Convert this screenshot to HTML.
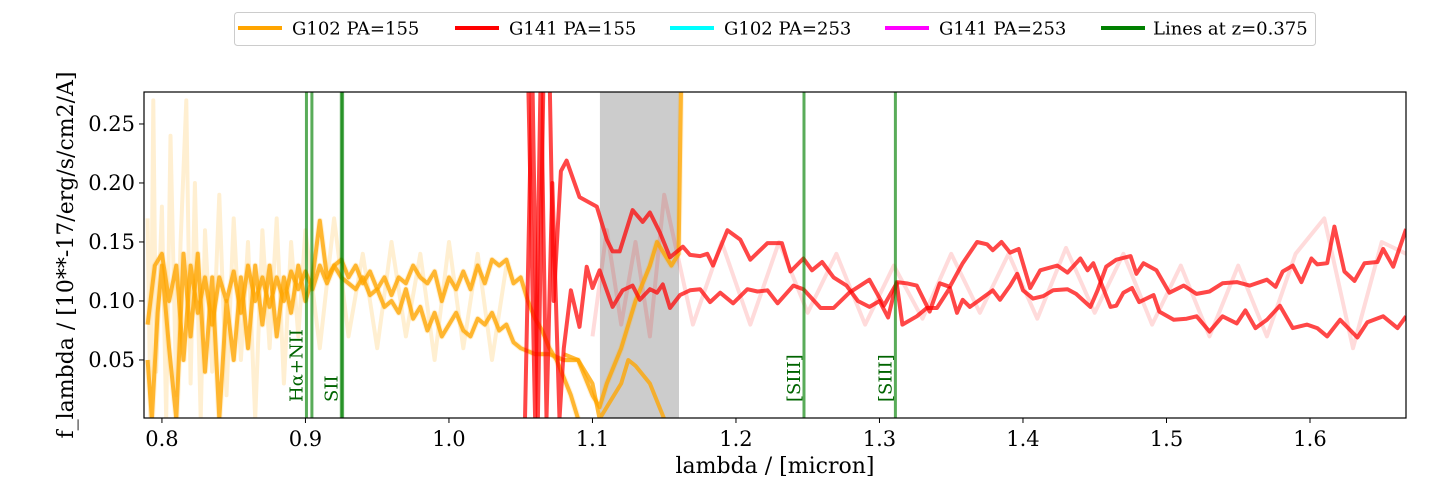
<!DOCTYPE html>
<html><head><meta charset="utf-8"><style>
html,body{margin:0;padding:0;background:#fff;}
svg{display:block;font-family:"DejaVu Serif","Liberation Serif",serif;}
</style></head><body>
<svg id="chart" width="1435" height="492" viewBox="0 0 1435 492">
<defs><clipPath id="clip"><rect x="144" y="92" width="1262" height="326"/></clipPath></defs>
<rect x="0" y="0" width="1435" height="492" fill="#fff"/>
<g id="plot" clip-path="url(#clip)"></g>
<rect x="144" y="92" width="1262" height="326" fill="none" stroke="#000" stroke-width="1.2"/>
<g id="axes"></g>
<text x="775" y="473" font-size="22" text-anchor="middle">lambda / [micron]</text>
<text transform="translate(73,255) rotate(-90)" font-size="22" text-anchor="middle">f_lambda / [10**-17/erg/s/cm2/A]</text>
<g>
<rect x="234.5" y="12.5" width="1081" height="33" rx="3" fill="#fff" stroke="#ccc"/>
<g><line x1="238" y1="28" x2="282" y2="28" stroke="#ffa500" stroke-width="4"/><text x="292" y="34.5" font-size="18">G102 PA=155</text></g>
<g><line x1="455" y1="28" x2="499" y2="28" stroke="#ff0000" stroke-width="4"/><text x="509" y="34.5" font-size="18">G141 PA=155</text></g>
<g><line x1="670" y1="28" x2="714" y2="28" stroke="#00ffff" stroke-width="4"/><text x="724" y="34.5" font-size="18">G102 PA=253</text></g>
<g><line x1="885" y1="28" x2="929" y2="28" stroke="#ff00ff" stroke-width="4"/><text x="939" y="34.5" font-size="18">G141 PA=253</text></g>
<g><line x1="1101" y1="28" x2="1145" y2="28" stroke="#008000" stroke-width="4"/><text x="1153" y="34.5" font-size="18">Lines at z=0.375</text></g>
</g>
</svg>
<script>
// ---- data ----
const xTicks = [0.8,0.9,1.0,1.1,1.2,1.3,1.4,1.5,1.6];
const xTickLabels = ["0.8","0.9","1.0","1.1","1.2","1.3","1.4","1.5","1.6"];
const yTicks = [0.05,0.10,0.15,0.20,0.25];
const yTickLabels = ["0.05","0.10","0.15","0.20","0.25"];
const maskBand = [1.1052,1.1603];
const lineWaves = [0.9007,0.9045,0.9250,0.9259,1.2474,1.3111];
const lineLabels = [{w:0.9007,t:"Hα+NII"},{w:0.9250,t:"SII"},{w:1.2474,t:"[SIII]"},{w:1.3111,t:"[SIII]"}];

const o1Wave = [0.79,0.795,0.80,0.805,0.81,0.815,0.82,0.825,0.83,0.835,0.84,0.845,0.85,0.855,0.86,0.865,0.87,0.875,0.88,0.885,0.89,0.895,0.90,0.905,0.91,0.915,0.92,0.925,0.93,0.935,0.94,0.945,0.95,0.955,0.96,0.965,0.97,0.975,0.98,0.985,0.99,0.995,1.0,1.005,1.01,1.015,1.02,1.025,1.03,1.035,1.04,1.045,1.05,1.055,1.06,1.065,1.07,1.075,1.08,1.085,1.09];
const o1Flux = [0.08,0.13,0.14,0.10,0.13,0.05,0.13,0.09,0.12,0.08,0.12,0.10,0.125,0.09,0.13,0.10,0.12,0.095,0.12,0.10,0.125,0.11,0.125,0.11,0.13,0.115,0.13,0.135,0.12,0.13,0.115,0.125,0.11,0.12,0.105,0.12,0.115,0.13,0.12,0.115,0.125,0.10,0.12,0.11,0.125,0.11,0.13,0.115,0.135,0.13,0.135,0.115,0.12,0.10,0.085,0.075,0.06,0.05,0.035,0.02,0.0];
const o2Wave = [0.79,0.793,0.797,0.80,0.805,0.81,0.815,0.82,0.825,0.83,0.835,0.84,0.845,0.85,0.855,0.86,0.865,0.87,0.875,0.88,0.885,0.89,0.895,0.90,0.905,0.91,0.915,0.92,0.925,0.93,0.935,0.94,0.945,0.95,0.955,0.96,0.965,0.97,0.975,0.98,0.985,0.99,0.995,1.0,1.005,1.01,1.015,1.02,1.025,1.03,1.035,1.04,1.045,1.05,1.06,1.07,1.08,1.09,1.10,1.105,1.11,1.12,1.13,1.14,1.145,1.155,1.16,1.162,1.164];
const o2Flux = [0.05,0.0,0.09,0.13,0.06,0.0,0.14,0.07,0.14,0.04,0.12,0.0,0.10,0.05,0.12,0.06,0.13,0.08,0.13,0.07,0.12,0.09,0.13,0.10,0.12,0.168,0.12,0.13,0.12,0.115,0.11,0.12,0.105,0.11,0.095,0.10,0.09,0.11,0.085,0.095,0.075,0.09,0.07,0.08,0.09,0.075,0.07,0.085,0.08,0.09,0.075,0.08,0.065,0.06,0.055,0.055,0.05,0.05,0.02,0.01,0.03,0.06,0.10,0.13,0.15,0.13,0.14,0.30,0.30];
const o3Wave = [1.08,1.09,1.10,1.105,1.11,1.12,1.125,1.13,1.14,1.15];
const o3Flux = [0.055,0.05,0.03,0.0,0.01,0.03,0.05,0.045,0.03,0.0];
const oFaintWave = [0.79,0.792,0.794,0.796,0.80,0.803,0.806,0.81,0.813,0.817,0.82,0.823,0.827,0.83,0.835,0.84,0.845,0.85,0.855,0.86,0.865,0.87,0.875,0.88,0.885,0.89,0.895,0.90,0.91,0.92,0.93,0.94,0.95,0.96,0.97,0.98,0.99,1.0,1.01,1.02,1.03,1.04];
const oFaintFlux = [0.17,0.0,0.27,0.04,0.18,0.0,0.24,0.02,0.15,0.27,0.03,0.20,0.0,0.16,0.04,0.19,0.02,0.17,0.05,0.15,0.0,0.16,0.06,0.17,0.03,0.15,0.07,0.16,0.06,0.17,0.07,0.14,0.06,0.15,0.07,0.14,0.05,0.15,0.06,0.14,0.05,0.13];

const r1Wave = [1.053,1.058,1.062,1.066,1.070,1.073,1.078,1.082,1.091,1.103,1.110,1.114,1.119,1.128,1.135,1.140,1.147,1.154,1.163,1.168,1.175,1.180,1.184,1.194,1.203,1.210,1.222,1.232,1.238,1.247,1.253,1.260,1.268,1.277,1.285,1.293,1.300,1.306,1.312,1.319,1.326,1.335,1.342,1.349,1.358,1.368,1.375,1.379,1.385,1.391,1.397,1.405,1.412,1.424,1.431,1.440,1.445,1.449,1.461,1.465,1.470,1.476,1.481,1.491,1.495,1.505,1.514,1.521,1.530,1.539,1.549,1.555,1.562,1.570,1.579,1.588,1.598,1.605,1.612,1.621,1.633,1.640,1.651,1.661,1.667];
const r1Flux = [0.0,0.30,0.0,0.30,0.30,0.10,0.21,0.219,0.188,0.18,0.152,0.142,0.142,0.177,0.167,0.175,0.158,0.137,0.146,0.139,0.138,0.14,0.13,0.16,0.152,0.135,0.149,0.149,0.125,0.136,0.126,0.133,0.12,0.113,0.10,0.095,0.10,0.086,0.116,0.115,0.113,0.091,0.115,0.112,0.132,0.15,0.148,0.143,0.15,0.141,0.144,0.111,0.126,0.13,0.124,0.136,0.126,0.132,0.095,0.096,0.107,0.111,0.099,0.105,0.091,0.084,0.085,0.087,0.074,0.087,0.081,0.092,0.077,0.084,0.096,0.077,0.08,0.077,0.07,0.084,0.069,0.082,0.087,0.077,0.087];
const r2Wave = [1.055,1.060,1.064,1.068,1.072,1.077,1.080,1.085,1.091,1.096,1.100,1.105,1.114,1.121,1.128,1.133,1.140,1.145,1.149,1.154,1.161,1.168,1.175,1.182,1.189,1.198,1.208,1.215,1.222,1.229,1.240,1.247,1.259,1.268,1.279,1.293,1.303,1.312,1.316,1.326,1.333,1.340,1.349,1.354,1.358,1.363,1.370,1.379,1.384,1.391,1.396,1.400,1.407,1.414,1.421,1.431,1.437,1.447,1.452,1.458,1.465,1.475,1.479,1.484,1.493,1.502,1.512,1.521,1.530,1.539,1.549,1.558,1.570,1.576,1.581,1.588,1.594,1.601,1.605,1.612,1.617,1.624,1.631,1.638,1.647,1.651,1.658,1.667];
const r2Flux = [0.30,0.0,0.30,0.0,0.20,0.0,0.06,0.109,0.078,0.129,0.111,0.126,0.095,0.109,0.113,0.101,0.11,0.107,0.114,0.094,0.105,0.109,0.11,0.099,0.107,0.098,0.11,0.108,0.109,0.098,0.113,0.11,0.094,0.094,0.107,0.118,0.096,0.115,0.08,0.087,0.094,0.094,0.111,0.09,0.101,0.095,0.101,0.109,0.101,0.113,0.123,0.109,0.102,0.104,0.109,0.11,0.106,0.095,0.109,0.129,0.135,0.138,0.123,0.132,0.126,0.107,0.113,0.106,0.108,0.115,0.116,0.113,0.118,0.112,0.125,0.13,0.116,0.136,0.131,0.132,0.163,0.125,0.117,0.132,0.133,0.144,0.129,0.161];
const rFaintWave = [1.10,1.11,1.12,1.13,1.14,1.15,1.17,1.19,1.21,1.23,1.25,1.27,1.29,1.31,1.33,1.35,1.37,1.39,1.41,1.43,1.45,1.47,1.49,1.51,1.53,1.55,1.57,1.59,1.61,1.63,1.65,1.667];
const rFaintFlux = [0.07,0.16,0.08,0.15,0.07,0.19,0.08,0.15,0.08,0.15,0.09,0.14,0.08,0.13,0.085,0.14,0.09,0.14,0.085,0.145,0.09,0.14,0.08,0.13,0.07,0.13,0.07,0.14,0.17,0.06,0.15,0.14];

// ---- scales ----
const X0=144,X1=1406,Y0=92,Y1=418;
const xMin=0.7875,xMax=1.6669,yMin=0.0008,yMax=0.2771;
function xs(v){return X0+(v-xMin)/(xMax-xMin)*(X1-X0);}
function ys(v){return Y1-(v-yMin)/(yMax-yMin)*(Y1-Y0);}
const NS="http://www.w3.org/2000/svg";
const plot=document.getElementById('plot');
const axes=document.getElementById('axes');
function mk(tag,attrs,parent){const e=document.createElementNS(NS,tag);for(const k in attrs)e.setAttribute(k,attrs[k]);parent.appendChild(e);return e;}

const band=mk('rect',{x:xs(maskBand[0]),y:Y0,width:xs(maskBand[1])-xs(maskBand[0]),height:Y1-Y0,fill:'#808080','fill-opacity':0.4},plot);



function series(w,f,color,width,op,name){
  const d=w.map((v,i)=>(i?'L':'M')+xs(v).toFixed(1)+','+ys(f[i]).toFixed(1)).join('');
  const p=mk('path',{d:d,fill:'none',stroke:color,'stroke-width':width,'stroke-opacity':op,'stroke-linejoin':'round'},plot);
  
  
}
series(oFaintWave,oFaintFlux,'#ffa500',4,0.18,'g102-155-faint-noise');
series(rFaintWave,rFaintFlux,'#ff0000',4,0.14,'g141-155-faint-noise');
series(o1Wave,o1Flux,'#ffa500',6,0.15,'g102-155-a-error');
series(o2Wave,o2Flux,'#ffa500',6,0.15,'g102-155-b-error');
series(o1Wave,o1Flux,'#ffa500',4,0.78,'g102-155-a');
series(o2Wave,o2Flux,'#ffa500',4,0.78,'g102-155-b');
series(o3Wave,o3Flux,'#ffa500',4,0.78,'g102-155-c');
series(r1Wave,r1Flux,'#ff0000',4,0.72,'g141-155-a');
series(r2Wave,r2Flux,'#ff0000',4,0.72,'g141-155-b');

lineWaves.forEach(w=>{
  const l=mk('line',{x1:xs(w),x2:xs(w),y1:Y0,y2:Y1,stroke:'#008000','stroke-width':3,'stroke-opacity':0.65},plot);
  
  
});
lineLabels.forEach(o=>{
  const x=xs(o.w)-4;
  const t=mk('text',{transform:'translate('+x+',402) rotate(-90)','font-size':18,fill:'#006400'},axes);
  t.textContent=o.t;
  
  
});

xTicks.forEach((v,i)=>{
  const x=xs(v);
  const tk=mk('line',{x1:x,x2:x,y1:Y1,y2:Y1+5,stroke:'#000','stroke-width':1},axes);
  
  
  const t=mk('text',{x:x,y:Y1+28,'font-size':21,'text-anchor':'middle'},axes);
  t.textContent=xTickLabels[i];
  
  
});
yTicks.forEach((v,i)=>{
  const y=ys(v);
  const tk=mk('line',{x1:X0-5,x2:X0,y1:y,y2:y,stroke:'#000','stroke-width':1},axes);
  
  
  const t=mk('text',{x:X0-9,y:y+7,'font-size':21,'text-anchor':'end'},axes);
  t.textContent=yTickLabels[i];
  
  
});
</script>
</body></html>
